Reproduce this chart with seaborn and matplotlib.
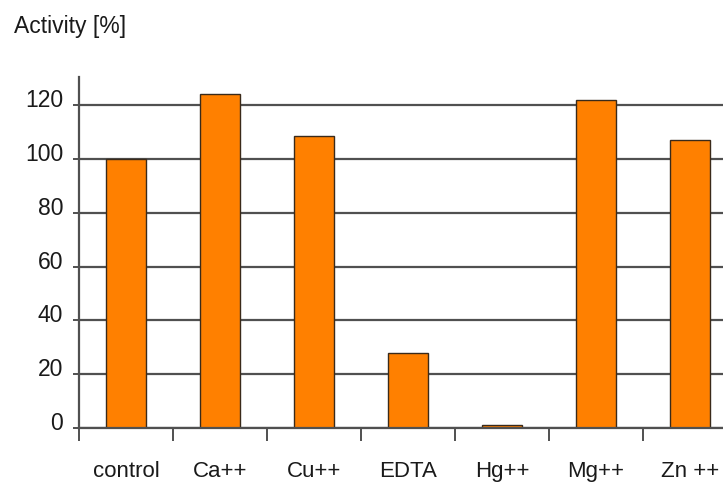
import matplotlib
matplotlib.use("Agg")
import matplotlib.pyplot as plt
import matplotlib.transforms as mtransforms
import seaborn as sns
import pandas as pd
import numpy as np

categories = ["control", "Ca++", "Cu++", "EDTA", "Hg++", "Mg++", "Zn ++"]
activity = [100, 124, 108.5, 28, 1, 122, 107]
y_ticks = [0, 20, 40, 60, 80, 100, 120]

sns.set_theme(style="white")
plt.rcParams["font.family"] = ["Liberation Sans", "DejaVu Sans"]

df = pd.DataFrame({"treatment": categories, "activity": activity})

W, H = 723, 488
fig = plt.figure(figsize=(W / 100, H / 100), dpi=100)
fig.patch.set_facecolor("white")

# axes run past the right edge of the canvas, so the last bar sits at the border
x0, x1, y_top, y_bot = 79, 737, 77, 428
ax = fig.add_axes([x0 / W, (H - y_bot) / H, (x1 - x0) / W, (y_bot - y_top) / H])

sns.barplot(data=df, x="treatment", y="activity", ax=ax, color="#FF8000",
            width=0.42, edgecolor="#3a2a1a", linewidth=1.0, saturation=1)

ax.set_xlim(-0.5, len(categories) - 0.5)
ax.set_ylim(0, 130.5)
ax.set_yticks(y_ticks)
ax.set_yticklabels([str(t) for t in y_ticks])
ax.yaxis.grid(True, color="#505050", linewidth=1.6)
ax.set_axisbelow(True)

for s in ["top", "right"]:
    ax.spines[s].set_visible(False)
for s in ["left", "bottom"]:
    ax.spines[s].set_color("#505050")
    ax.spines[s].set_linewidth(1.6)

# category boundaries carry the tick marks, labels sit centred without marks
ax.set_xticks(np.arange(-0.5, len(categories)), minor=True)
ax.tick_params(axis="x", which="minor", direction="out", length=9, width=1.4,
               color="#505050", bottom=True)
ax.tick_params(axis="x", which="major", length=0, pad=24, labelsize=16,
               labelcolor="#1a1a1a")
ax.tick_params(axis="y", which="major", direction="out", length=4.5, width=1.4,
               color="#505050", left=True, pad=7, labelsize=16.5,
               labelcolor="#1a1a1a")
ax.set_xlabel("")
ax.set_ylabel("")

# value labels sit a little above their grid lines
lift = mtransforms.ScaledTranslation(0, 7 / 100, fig.dpi_scale_trans)
for lab in ax.get_yticklabels():
    lab.set_transform(lab.get_transform() + lift)

fig.text(14 / W, 1 - 33 / H, "Activity [%]", fontsize=16.5, color="#1a1a1a",
         ha="left", va="baseline")

fig.savefig("out.png", dpi=100, facecolor="white")
